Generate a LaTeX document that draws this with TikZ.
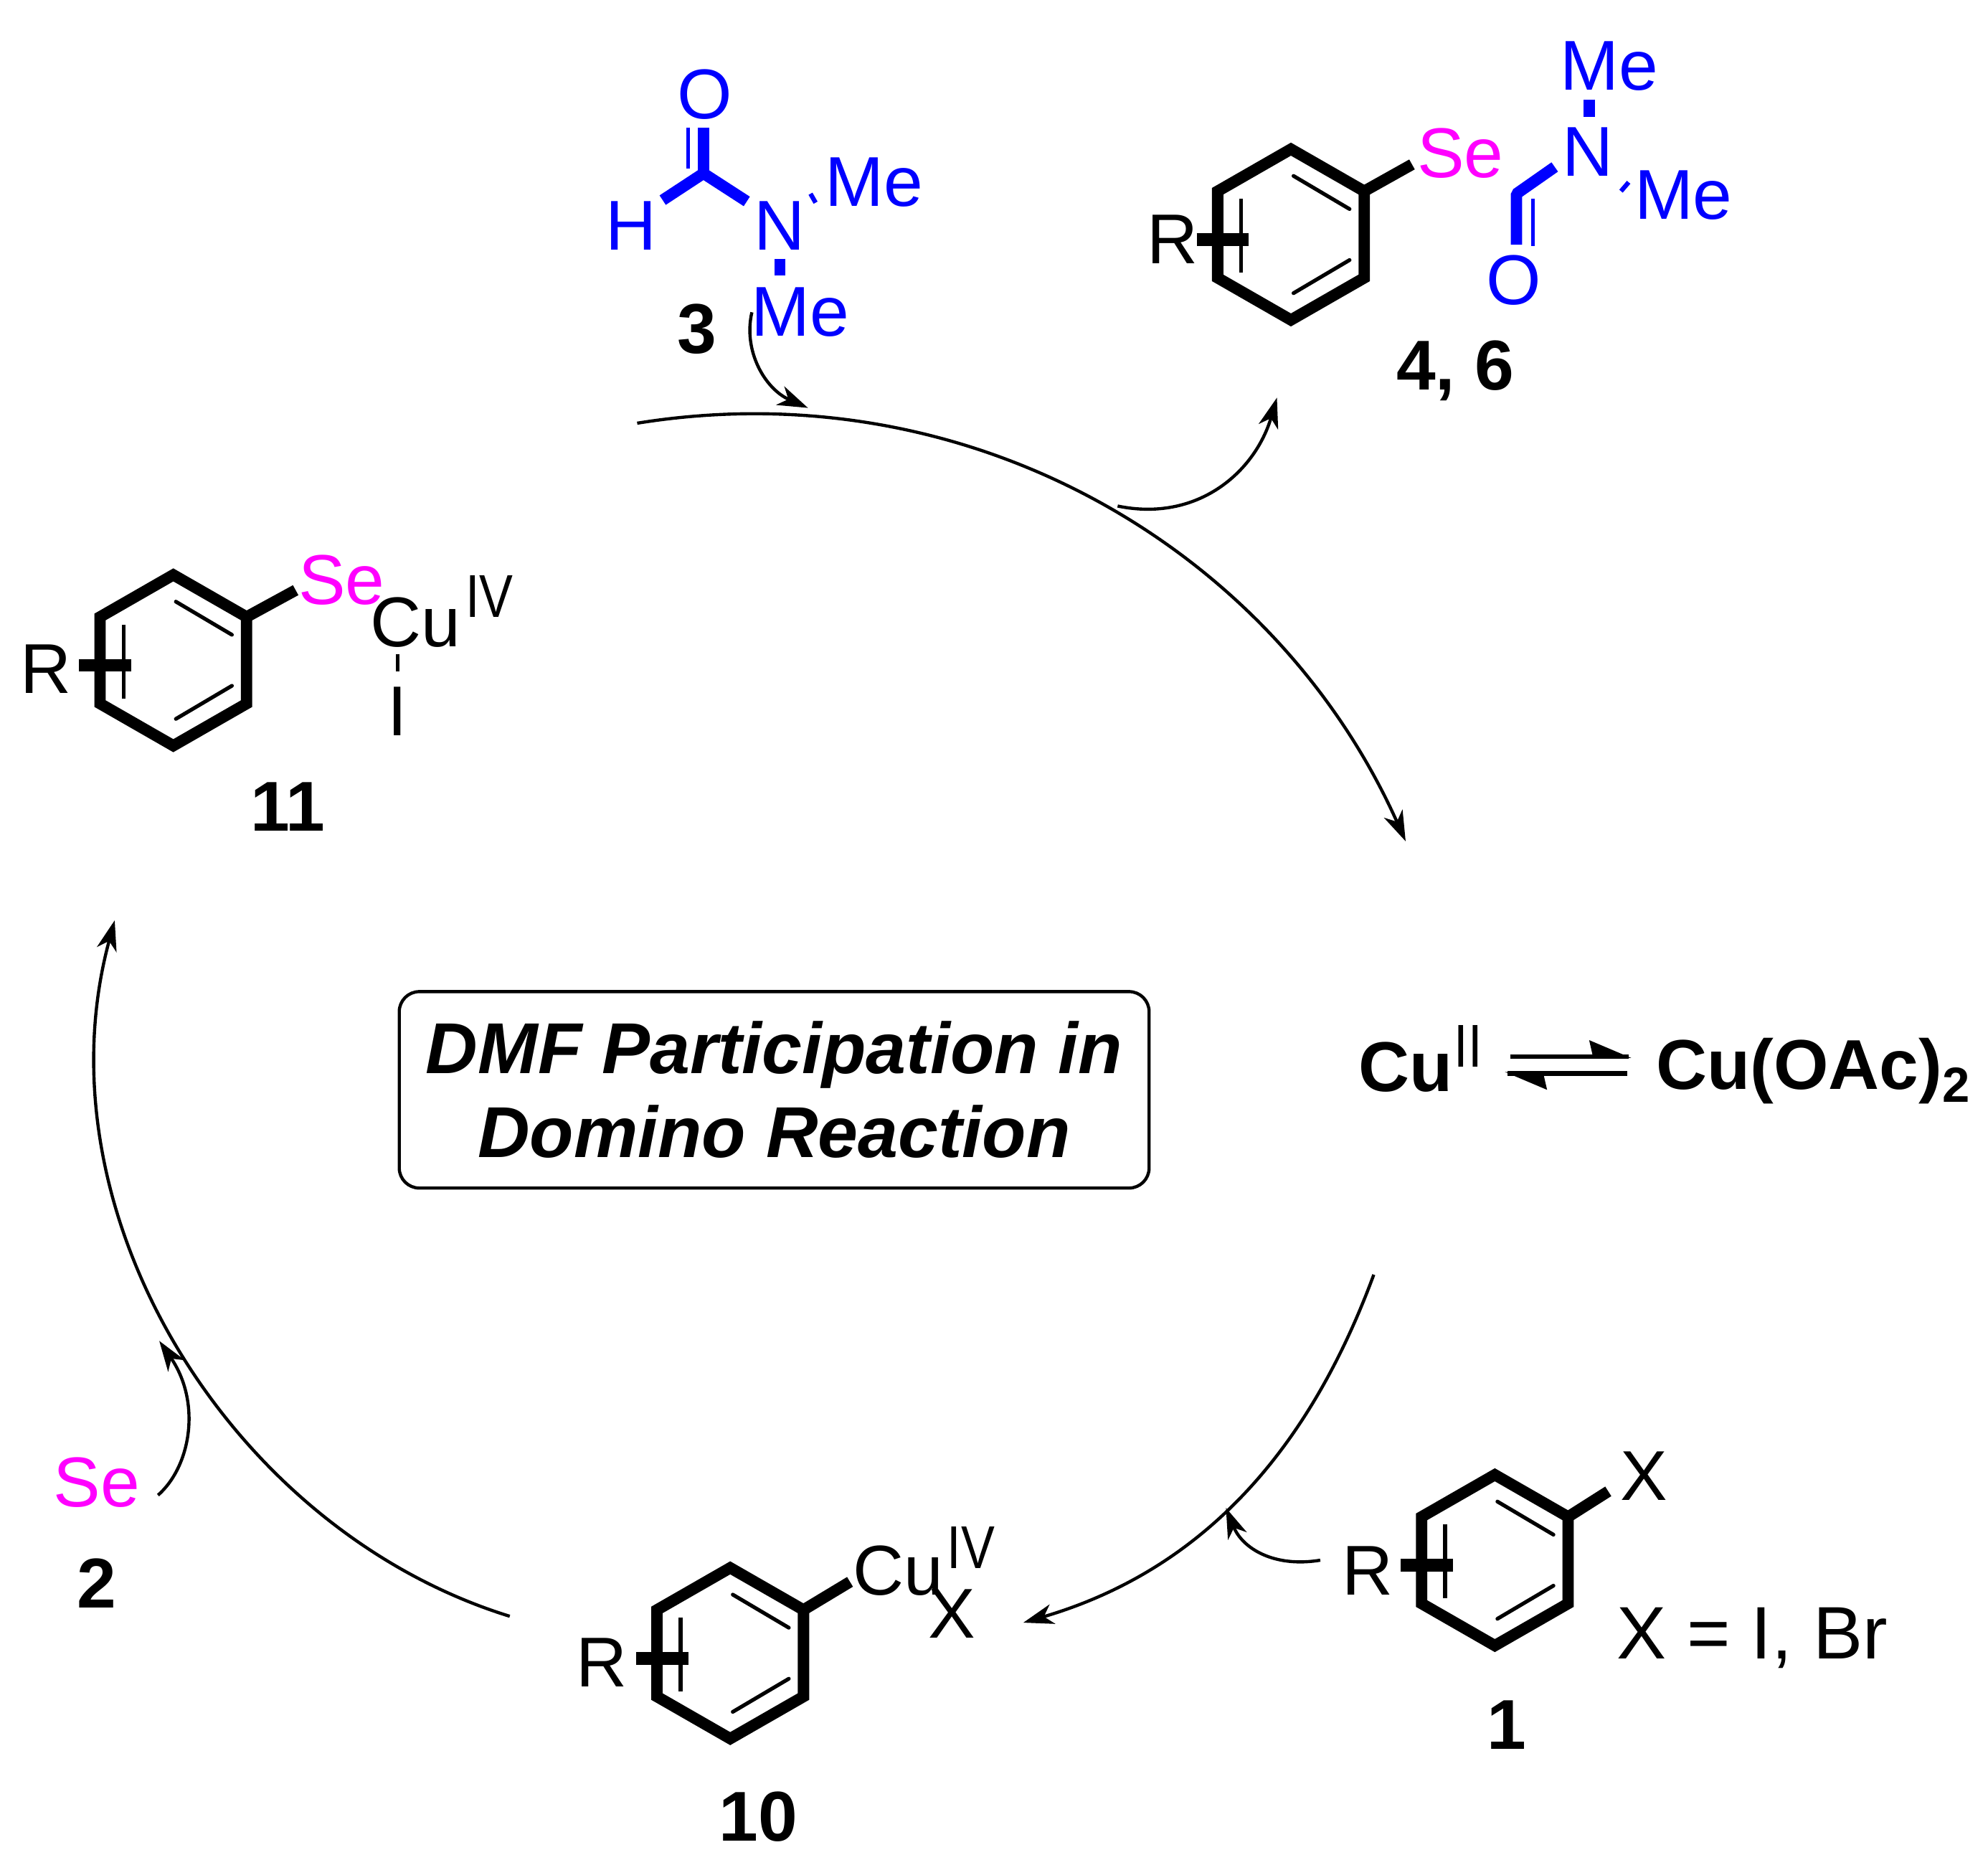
\documentclass[tikz,border=0pt]{standalone}
\usepackage{fontspec}
\setmainfont{Liberation Sans}
\usetikzlibrary{arrows.meta}
\definecolor{chemblue}{RGB}{0,0,255}
\definecolor{chemse}{RGB}{255,0,255}
\newcommand\tallsup[1]{\scalebox{1}[1.2]{#1}}
\tikzset{
  x=0.0177692cm,y=-0.0177692cm,
  atom/.style={inner sep=0pt,font=\fontsize{28}{30}\selectfont},
  bluatom/.style={atom,text=chemblue},
  seatom/.style={atom,text=chemse},
  sup/.style={inner sep=0pt,font=\fontsize{20}{22}\selectfont},
  lab/.style={inner sep=0pt,font=\fontsize{28}{30}\selectfont\bfseries},
  thickbond/.style={line width=4.5pt,line cap=butt,miter limit=10},
  thinbond/.style={line width=1.5pt},
  reactarrow/.style={line width=1.25pt,-{Stealth[length=12pt,width=8pt,inset=3.5pt]}},
  pics/benz/.style={code={
    \coordinate (-t) at (0,-67);
    \coordinate (-ur) at (57.5,-34);
    \coordinate (-lr) at (57.5,34);
    \coordinate (-b) at (0,67);
    \coordinate (-ll) at (-57.5,34);
    \coordinate (-ul) at (-57.5,-34);
    \draw[thickbond,line join=miter] (-t)--(-ur)--(-lr)--(-b)--(-ll)--(-ul)--cycle;
    \draw[thinbond,line cap=round] (2,-46)--(46,-20);
    \draw[thinbond,line cap=round] (2,46)--(46,20);
    \draw[thinbond] (-39,-28)--(-39,30);
    \draw[line width=5pt] (-74,4)--(-33,4);
  }}
}
\begin{document}
\begin{tikzpicture}
\useasboundingbox (0,0) rectangle (1560,1455.3);
% DMF 3
\node[bluatom] (dmfO) at (553,74) {O};
\node[bluatom] (dmfH) at (495,177) {H};
\node[bluatom] (dmfN) at (612,177) {N};
\node[bluatom] (dmfMe1) at (686,143) {Me};
\node[bluatom] (dmfMe2) at (628,245) {Me};
\coordinate (dmfC) at (552,136);
\draw[chemblue,thickbond,line join=bevel] (520,157)--(dmfC)--(586,158);
\draw[chemblue,thickbond] (dmfC)--(552,100);
\draw[chemblue,thinbond] (540,100)--(540,132);
\draw[chemblue,line width=1.8pt] (636,152)--(640,159);
\draw[chemblue,thickbond] (612,203)--(612,216);
\node[lab] (n3) at (547,258) {3};
% product 4,6
\pic (pr) at (1013,184) {benz};
\node[atom] (prR) at (920,188) {R};
\node[seatom] (prSe) at (1146,120) {Se};
\node[bluatom] (prN) at (1246,119) {N};
\node[bluatom] (prMe1) at (1263,52) {Me};
\node[bluatom] (prMe2) at (1321,153) {Me};
\node[bluatom] (prO) at (1188,220) {O};
\coordinate (prC) at (1190,152);
\draw[thickbond] (pr-ur)--(1108,129);
\draw[chemblue,thickbond,line join=bevel] (1220,131)--(prC)--(1190,192);
\draw[chemblue,thinbond] (1203,156)--(1203,193);
\draw[chemblue,thickbond] (1247,78)--(1247,92);
\draw[chemblue,line width=1.8pt] (1272,150)--(1278,143);
\node[lab] (n46) at (1142,291) {4, 6};
% complex 11
\pic (cx) at (136,518) {benz};
\node[atom] (cxR) at (36,525) {R};
\node[seatom] (cxSe) at (268,455) {Se};
\node[atom] (cxCu) at (326,488) {Cu};
\node[sup] (cxIV) at (384,468) {\tallsup{IV}};
\node[atom] (cxI) at (312,558) {I};
\draw[thickbond] (cx-ur)--(232,463);
\draw[thinbond] (312,513)--(312,527);
\node[lab] (n11) at (226,633) {11};
% Aryl iodide 1
\pic (ar) at (1173,1224) {benz};
\node[atom] (arR) at (1073,1232) {R};
\node[atom] (arX) at (1290,1158) {X};
\node[atom,font=\fontsize{29.5}{31}\selectfont] (arEq) at (1375,1285) {X = I, Br};
\draw[thickbond] (ar-ur)--(1262,1170);
\node[lab] (n1) at (1182,1353) {1};
% 10
\pic (ox) at (573,1297) {benz};
\node[atom] (oxR) at (472,1304) {R};
\node[atom] (oxCu) at (705,1232) {Cu};
\node[sup] (oxIV) at (762,1214) {\tallsup{IV}};
\node[atom] (oxX) at (747,1266) {X};
\draw[thickbond] (ox-ur)--(667,1241);
\node[lab] (n10) at (595,1425) {10};
% Se 2
\node[seatom] (se) at (76,1163) {Se};
\node[lab] (n2) at (76,1242) {2};
% centre box
\node[draw,line width=1.25pt,rounded corners=8pt,minimum width=10.46cm,minimum height=2.74cm,
  align=center,font=\fontsize{28.6}{33.3}\selectfont\bfseries\itshape] (box) at (607.5,855) {DMF Participation in\\Domino Reaction};
% copper
\node[lab] (cuii) at (1103,837) {Cu};
\node[sup] (cuiisup) at (1152,821) {\tallsup{II}};
\node[lab] (cuoac) at (1423,840) {Cu(OAc)\textsubscript{2}};
\coordinate (eqA) at (1185,829);
\coordinate (eqB) at (1278,829);
\coordinate (eqC) at (1277,842);
\coordinate (eqD) at (1183,842);
\draw[line width=1.9pt] (eqA)--(eqB);
\fill (eqB)++(2,1)--++(-33,-14)--++(3,13)--cycle;
\draw[line width=1.9pt] (eqC)--(eqD);
\fill (eqD)++(-2,-1)--++(33,14)--++(-3,-13)--cycle;
% cycle
\coordinate (a1s) at (500,332);
\coordinate (a1e) at (1103,660);
\coordinate (a2s) at (1078,1000);
\coordinate (a2e) at (803,1273);
\coordinate (a3s) at (400,1268);
\coordinate (a3e) at (90,722);
\draw[reactarrow] (a1s) .. controls (760,290) and (1000,430) .. (a1e);
\draw[reactarrow] (a2s) .. controls (1030,1130) and (950,1230) .. (a2e);
\draw[reactarrow] (a3s) .. controls (180,1200) and (28,950) .. (a3e);
\coordinate (f3s) at (590,245);
\coordinate (f3e) at (634,320);
\coordinate (f4s) at (877,397);
\coordinate (f4e) at (1002,312);
\coordinate (f1s) at (1036,1224);
\coordinate (f1e) at (962,1183);
\coordinate (f2s) at (124,1173);
\coordinate (f2e) at (125,1052);
\draw[reactarrow] (f3s) .. controls (583,275) and (600,305) .. (f3e);
\draw[reactarrow] (f4s) .. controls (940,410) and (985,370) .. (f4e);
\draw[reactarrow] (f1s) .. controls (1000,1230) and (975,1215) .. (f1e);
\draw[reactarrow] (f2s) .. controls (150,1150) and (158,1100) .. (f2e);
\end{tikzpicture}
\end{document}
